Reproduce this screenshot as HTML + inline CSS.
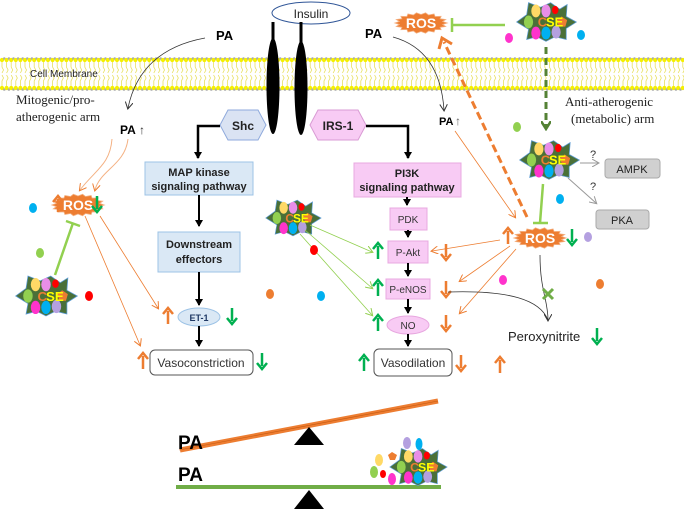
<!DOCTYPE html>
<html><head><meta charset="utf-8"><style>
body{margin:0;background:#fff;}
svg{display:block;font-family:"Liberation Sans",sans-serif;}
</style></head><body>
<svg id="s" width="684" height="509" viewBox="0 0 684 509" xmlns="http://www.w3.org/2000/svg">
<defs>
<marker id="ab" markerWidth="8" markerHeight="8" refX="6" refY="4" orient="auto" markerUnits="userSpaceOnUse"><path d="M0,0 L7,4 L0,8 Z" fill="#000"/></marker>
<marker id="ao" markerWidth="8" markerHeight="8" refX="6" refY="4" orient="auto" markerUnits="userSpaceOnUse"><path d="M0,0 L7,4 L0,8" fill="none" stroke="#ed7d31" stroke-width="1"/></marker>
<marker id="ag" markerWidth="8" markerHeight="8" refX="6" refY="4" orient="auto" markerUnits="userSpaceOnUse"><path d="M0,0 L7,4 L0,8" fill="none" stroke="#92d050" stroke-width="1"/></marker>
<marker id="ak" markerWidth="8" markerHeight="8" refX="6" refY="4" orient="auto" markerUnits="userSpaceOnUse"><path d="M0,0 L7,4 L0,8" fill="none" stroke="#333" stroke-width="1"/></marker>
<marker id="agr" markerWidth="8" markerHeight="8" refX="6" refY="4" orient="auto" markerUnits="userSpaceOnUse"><path d="M0,0 L7,4 L0,8" fill="none" stroke="#999" stroke-width="1"/></marker>
<marker id="adg" markerWidth="10" markerHeight="10" refX="7" refY="5" orient="auto" markerUnits="userSpaceOnUse"><path d="M0,0 L8,5 L0,10" fill="none" stroke="#548235" stroke-width="2.5"/></marker>
</defs>
<g id="mem"></g>
<g id="main"></g>
</svg>
<script>
var S='';
// membrane
var m='';
m+='<rect x="0" y="58" width="684" height="31" fill="#fff"/>';
for(var x=2;x<684;x+=4.6){
 m+='<path d="M'+x+',61 l0,6 l1.5,3 l-1.5,3 M'+x+',87 l0,-6 l1.5,-3 l-1.5,-3" stroke="#e8e060" stroke-width="0.8" fill="none"/>';
 m+='<circle cx="'+x+'" cy="60" r="2.1" fill="#f5f000"/><circle cx="'+x+'" cy="88" r="2.1" fill="#f5f000"/>';
 m+='<circle cx="'+(x+2.3)+'" cy="58.5" r="1.3" fill="#aaa"/><circle cx="'+(x+2.3)+'" cy="89.5" r="1.3" fill="#aaa"/>';
}
document.getElementById('mem').innerHTML=m;

function ros(cx,cy,w,h){
 var p=[],n=18;
 for(var i=0;i<n*2;i++){var a=Math.PI*i/n;var r=(i%2?1:1.22);p.push((cx+Math.cos(a)*w/2*(i%2?0.88:1.05)).toFixed(1)+','+(cy+Math.sin(a)*h/2*r).toFixed(1));}
 return '<polygon points="'+p.join(' ')+'" fill="#ed7d31" stroke="#f4b183" stroke-width="0.8"/><text x="'+cx+'" y="'+(cy+5)+'" font-size="14" font-weight="bold" fill="#fff" text-anchor="middle">ROS</text>';
}
function cse(cx,cy,s){
 var pts=[[-32,0],[-21,-8],[-19,-21],[-6,-16],[5,-21],[15,-14],[23,-19],[22,-6],[33,0],[22,7],[22,19],[10,16],[0,21],[-10,16],[-21,19],[-19,8]];
 var g='<g transform="translate('+cx+','+cy+') scale('+s+')">';
 g+='<polygon points="'+pts.map(function(p){return p.join(',')}).join(' ')+'" fill="#4a7038" stroke="#5b9bd5" stroke-width="0.8"/>';
 g+='<ellipse cx="-11" cy="-12" rx="5" ry="7" fill="#ffd966"/><ellipse cx="0" cy="-12" rx="5" ry="7" fill="#e88ee8"/><ellipse cx="10" cy="-13" rx="3.5" ry="4.5" fill="#f00"/>';
 g+='<ellipse cx="-19" cy="0" rx="5" ry="7" fill="#92d050"/><polygon points="17,-6 23,-2 21,5 14,5 12,-2" fill="#ed7d31"/>';
 g+='<ellipse cx="-11" cy="12" rx="5" ry="7" fill="#ff33cc"/><ellipse cx="0" cy="12" rx="5" ry="7" fill="#00b0f0"/><ellipse cx="11" cy="11" rx="5" ry="7" fill="#b4a0e0"/>';
 g+='<text x="-9" y="5" font-size="14" font-weight="bold" fill="#ed7d31">C</text><text x="0" y="5" font-size="14" font-weight="bold" fill="#ffff00">SE</text></g>';
 return g;
}
function up(x,y,c){return '<path d="M'+x+','+(y+16)+' L'+x+','+(y+3)+'" stroke="'+c+'" stroke-width="2.5"/><path d="M'+(x-5)+','+(y+6)+' L'+x+','+y+' L'+(x+5)+','+(y+6)+'" stroke="'+c+'" stroke-width="2.5" fill="none"/>';}
function dn(x,y,c){return '<path d="M'+x+','+y+' L'+x+','+(y+13)+'" stroke="'+c+'" stroke-width="2.5"/><path d="M'+(x-5)+','+(y+10)+' L'+x+','+(y+16)+' L'+(x+5)+','+(y+10)+'" stroke="'+c+'" stroke-width="2.5" fill="none"/>';}
var O='#ed7d31',G='#00b050';
// insulin & receptor
S+='<ellipse cx="311" cy="13" rx="39" ry="11" fill="#fff" stroke="#2f5597" stroke-width="1"/><text x="311" y="18" font-size="12" text-anchor="middle" fill="#222">Insulin</text>';
S+='<path d="M273,22 L273,45 M301,22 L301,45" stroke="#000" stroke-width="3"/>';
S+='<ellipse cx="273" cy="86" rx="6.5" ry="48" fill="#000"/><ellipse cx="301" cy="88" rx="6.5" ry="47" fill="#000"/>';
// texts
S+='<text x="30" y="77" font-size="10" fill="#222">Cell Membrane</text>';
S+='<text x="16" y="104" font-size="13" font-family="Liberation Serif" fill="#222">Mitogenic/pro-</text><text x="16" y="121" font-size="13" font-family="Liberation Serif" fill="#222">atherogenic arm</text>';
S+='<text x="565" y="106" font-size="13" font-family="Liberation Serif" fill="#222">Anti-atherogenic</text><text x="571" y="123" font-size="13" font-family="Liberation Serif" fill="#222">(metabolic) arm</text>';
S+='<text x="216" y="40" font-size="13" font-weight="bold">PA</text><text x="365" y="38" font-size="13" font-weight="bold">PA</text>';
S+='<text x="120" y="134" font-size="12" font-weight="bold">PA</text><text x="139" y="134" font-size="12" fill="#333">↑</text>';
S+='<text x="439" y="125" font-size="11" font-weight="bold">PA</text><text x="455" y="125" font-size="12" fill="#666">↑</text>';
S+='<path d="M205,38 Q140,50 128,108" stroke="#333" stroke-width="0.8" fill="none" marker-end="url(#ak)"/>';
S+='<path d="M393,37 Q440,50 444,110" stroke="#333" stroke-width="0.8" fill="none" marker-end="url(#ak)"/>';
// Shc / IRS
S+='<polygon points="220,125 228,110 258,110 266,125 258,140 228,140" fill="#dae3f3" stroke="#8faadc"/><text x="243" y="130" font-size="12" font-weight="bold" text-anchor="middle" fill="#222">Shc</text>';
S+='<polygon points="310,125 318,110 358,110 366,125 358,140 318,140" fill="#f8cbf4" stroke="#d99bd4"/><text x="338" y="130" font-size="12" font-weight="bold" text-anchor="middle" fill="#222">IRS-1</text>';
S+='<path d="M220,126 L198,126 L198,158" stroke="#000" stroke-width="2.5" fill="none" marker-end="url(#ab)"/>';
S+='<path d="M366,126 L408,126 L408,158" stroke="#000" stroke-width="2.5" fill="none" marker-end="url(#ab)"/>';
// left column
S+='<rect x="145" y="162" width="108" height="33" fill="#dae8f5" stroke="#9dc3e6"/><text x="199" y="176" font-size="11" font-weight="bold" text-anchor="middle" fill="#222">MAP kinase</text><text x="199" y="190" font-size="11" font-weight="bold" text-anchor="middle" fill="#222">signaling pathway</text>';
S+='<path d="M199,195 L199,226" stroke="#000" stroke-width="2" marker-end="url(#ab)"/>';
S+='<rect x="158" y="232" width="82" height="40" fill="#dae8f5" stroke="#9dc3e6"/><text x="199" y="248" font-size="11" font-weight="bold" text-anchor="middle" fill="#222">Downstream</text><text x="199" y="263" font-size="11" font-weight="bold" text-anchor="middle" fill="#222">effectors</text>';
S+='<path d="M199,272 L199,305" stroke="#000" stroke-width="2" marker-end="url(#ab)"/>';
S+='<ellipse cx="199" cy="317" rx="21" ry="9" fill="#dae8f5" stroke="#9dc3e6"/><text x="199" y="321" font-size="9" font-weight="bold" text-anchor="middle" fill="#1f3864">ET-1</text>';
S+='<path d="M199,326 L199,346" stroke="#000" stroke-width="2" marker-end="url(#ab)"/>';
S+='<rect x="150" y="350" width="103" height="25" rx="5" fill="#fff" stroke="#555"/><text x="201" y="367" font-size="12" text-anchor="middle" fill="#333">Vasoconstriction</text>';
S+=up(168,308,O)+dn(232,308,G)+up(143,353,O)+dn(262,353,G);
// right column
S+='<rect x="354" y="163" width="107" height="34" fill="#f8cbf4" stroke="#e8a8e0"/><text x="407" y="177" font-size="11" font-weight="bold" text-anchor="middle" fill="#222">PI3K</text><text x="407" y="191" font-size="11" font-weight="bold" text-anchor="middle" fill="#222">signaling pathway</text>';
S+='<path d="M407,197 L407,205" stroke="#000" stroke-width="2" marker-end="url(#ab)"/>';
S+='<rect x="390" y="208" width="37" height="22" fill="#f8cbf4" stroke="#e8a8e0"/><text x="408" y="223" font-size="10" text-anchor="middle" fill="#333">PDK</text>';
S+='<path d="M408,230 L408,237" stroke="#000" stroke-width="2" marker-end="url(#ab)"/>';
S+='<rect x="388" y="241" width="40" height="22" fill="#f8cbf4" stroke="#e8a8e0"/><text x="408" y="256" font-size="10" text-anchor="middle" fill="#333">P-Akt</text>';
S+='<path d="M408,263 L408,276" stroke="#000" stroke-width="2" marker-end="url(#ab)"/>';
S+='<rect x="386" y="279" width="44" height="20" fill="#f8cbf4" stroke="#e8a8e0"/><text x="408" y="293" font-size="10" text-anchor="middle" fill="#333">P-eNOS</text>';
S+='<path d="M408,299 L408,313" stroke="#000" stroke-width="2" marker-end="url(#ab)"/>';
S+='<ellipse cx="408" cy="325" rx="21" ry="9" fill="#f8cbf4" stroke="#e8a8e0"/><text x="408" y="329" font-size="10" text-anchor="middle" fill="#333">NO</text>';
S+='<path d="M408,334 L408,346" stroke="#000" stroke-width="2" marker-end="url(#ab)"/>';
S+='<rect x="374" y="349" width="78" height="27" rx="5" fill="#fff" stroke="#555"/><text x="413" y="367" font-size="12" text-anchor="middle" fill="#333">Vasodilation</text>';
S+=up(378,243,G)+dn(446,244,O)+up(378,280,G)+dn(446,281,O)+up(378,315,G)+dn(446,315,O)+up(364,355,G)+dn(461,355,O)+up(500,357,O);
// ROS
S+=ros(78,205,50,18)+up(58,196,O)+dn(97,196,G);
S+=ros(421,23,50,17);
S+=ros(540,238,50,17)+up(508,228,O)+dn(572,229,G);
// orange lines left
S+='<path d="M112,139 C110,165 95,170 80,190" stroke="#f4b183" stroke-width="1" fill="none" marker-end="url(#ao)"/>';
S+='<path d="M128,139 C125,165 100,170 95,190" stroke="#f4b183" stroke-width="1" fill="none" marker-end="url(#ao)"/>';
S+='<path d="M100,216 L158,308" stroke="'+O+'" stroke-width="0.8" marker-end="url(#ao)"/>';
S+='<path d="M85,216 L140,345" stroke="'+O+'" stroke-width="0.8" marker-end="url(#ao)"/>';
// left CSE inhibit
S+='<path d="M55,275 L73,223 M66,221 L80,226" stroke="#92d050" stroke-width="2.5"/>';
S+=cse(46,296,0.95);
// middle CSE
S+=cse(293,218,0.85);
S+='<path d="M310,225 L372,252" stroke="#92d050" stroke-width="0.8" marker-end="url(#ag)"/>';
S+='<path d="M305,230 L372,288" stroke="#92d050" stroke-width="0.8" marker-end="url(#ag)"/>';
S+='<path d="M300,234 L372,315" stroke="#92d050" stroke-width="0.8" marker-end="url(#ag)"/>';
// right orange lines
S+='<path d="M455,131 L515,217" stroke="'+O+'" stroke-width="0.8" marker-end="url(#ao)"/>';
S+='<path d="M500,240 L432,251" stroke="'+O+'" stroke-width="0.8" marker-end="url(#ao)"/>';
S+='<path d="M510,246 L460,281" stroke="'+O+'" stroke-width="0.8" marker-end="url(#ao)"/>';
S+='<path d="M516,249 L460,313" stroke="'+O+'" stroke-width="0.8" marker-end="url(#ao)"/>';
S+='<path d="M527,217 L444,42" stroke="'+O+'" stroke-width="3" stroke-dasharray="8,4" fill="none"/><path d="M439,49 L442,38 L452,44" stroke="'+O+'" stroke-width="3" fill="none"/>';
// top CSE
S+=cse(546,22,0.92);
S+='<path d="M505,25 L452,25 M452,18 L452,32" stroke="#92d050" stroke-width="2.5"/>';
S+='<path d="M546,47 L546,128" stroke="#548235" stroke-width="3" stroke-dasharray="7,4" marker-end="url(#adg)"/>';
S+=cse(549,160,0.92);
S+='<path d="M543,184 L540,223 M533,223 L548,223" stroke="#92d050" stroke-width="2.5"/>';
S+='<path d="M580,163 L598,163" stroke="#999" marker-end="url(#agr)"/><path d="M568,178 L596,203" stroke="#999" marker-end="url(#agr)"/>';
S+='<text x="590" y="158" font-size="11" fill="#333">?</text><text x="590" y="190" font-size="11" fill="#333">?</text>';
S+='<rect x="605" y="159" width="55" height="19" rx="3" fill="#d0d0d0" stroke="#aaa"/><text x="632" y="173" font-size="11" text-anchor="middle" fill="#222">AMPK</text>';
S+='<rect x="596" y="210" width="53" height="19" rx="3" fill="#d0d0d0" stroke="#aaa"/><text x="622" y="224" font-size="11" text-anchor="middle" fill="#222">PKA</text>';
// peroxynitrite
S+='<path d="M540,255 C540,290 548,300 548,320" stroke="#333" stroke-width="0.8" fill="none" marker-end="url(#ak)"/>';
S+='<path d="M448,292 C510,290 540,300 548,320" stroke="#333" stroke-width="0.8" fill="none"/>';
S+='<path d="M543,289 L553,299 M553,289 L543,299" stroke="#70ad47" stroke-width="3"/>';
S+='<text x="508" y="341" font-size="13" fill="#222">Peroxynitrite</text>'+dn(597,328,G);
// dots
var d=[[33,208,'#00b0f0'],[40,253,'#92d050'],[89,296,'#f00'],[509,38,'#ff33cc'],[517,127,'#92d050'],[581,35,'#00b0f0'],[560,199,'#00b0f0'],[588,237,'#b4a0e0'],[270,294,'#ed7d31'],[321,296,'#00b0f0'],[314,250,'#f00'],[503,280,'#ff33cc'],[600,284,'#ed7d31']];
d.forEach(function(a){S+='<ellipse cx="'+a[0]+'" cy="'+a[1]+'" rx="4" ry="5" fill="'+a[2]+'"/>';});
// seesaw
S+='<path d="M180,450 L438,401" stroke="'+O+'" stroke-width="5" stroke-linecap="butt"/><path d="M179,450 L438,401" stroke="#c55a11" stroke-width="0.6" fill="none"/>';
S+='<polygon points="309,427 294,445 324,445" fill="#000"/>';
S+='<text x="178" y="449" font-size="19" font-weight="bold">PA</text>';
S+='<rect x="176" y="485" width="265" height="4" fill="#70ad47"/>';
S+='<polygon points="309,490 294,509 324,509" fill="#000"/>';
S+='<text x="178" y="481" font-size="19" font-weight="bold">PA</text>';
S+=cse(418,467,0.88);
S+='<ellipse cx="379" cy="460" rx="4" ry="6" fill="#ffd966"/><ellipse cx="374" cy="472" rx="4" ry="6" fill="#92d050"/><ellipse cx="383" cy="474" rx="3" ry="4" fill="#f00"/><ellipse cx="392" cy="479" rx="4" ry="6" fill="#ff33cc"/><ellipse cx="407" cy="443" rx="4" ry="6" fill="#b4a0e0"/><ellipse cx="419" cy="444" rx="3.5" ry="6" fill="#00b0f0"/><polygon points="392,452 397,455 395,460 390,460 388,455" fill="#ed7d31"/>';
document.getElementById('main').innerHTML=S;
</script>
</body></html>
